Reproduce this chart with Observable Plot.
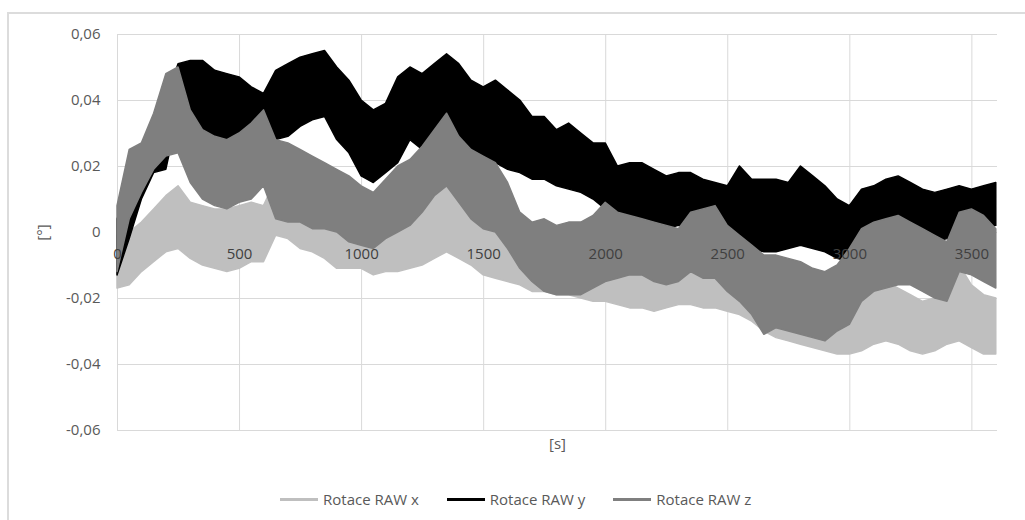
<!DOCTYPE html>
<html>
<head>
<meta charset="utf-8">
<script src="https://cdn.jsdelivr.net/npm/d3@7"></script>
<script src="https://cdn.jsdelivr.net/npm/@observablehq/plot@0.6"></script>
<style>
  html, body { margin: 0; padding: 0; background: #fff; }
  #root { position: relative; width: 1025px; height: 520px; overflow: hidden; font-family: "Open Sans", sans-serif; }
  #frame { position: absolute; left: 7px; top: 12px; width: 1100px; height: 600px; border-left: 2px solid #dcdcdc; border-top: 2px solid #dcdcdc; }
  #chart { position: absolute; left: 0; top: 0; }
  #legend { position: absolute; left: 280px; top: 489px; height: 20px; display: flex; align-items: center; font-size: 15px; color: #595959; white-space: nowrap; }
  .item { display: flex; align-items: center; margin-right: 28px; }
  .sw { width: 38px; height: 3px; margin-right: 5px; }
</style>
</head>
<body>
<div id="root">
  <div id="frame"></div>
  <div id="chart"></div>
  <div id="legend"></div>
</div>
<script>
// time samples [s]
const times = [0,50,100,150,200,250,300,350,400,450,
  500,550,600,650,700,750,800,850,900,950,
  1000,1050,1100,1150,1200,1250,1300,1350,1400,1450,
  1500,1550,1600,1650,1700,1750,1800,1850,1900,1950,
  2000,2050,2100,2150,2200,2250,2300,2350,2400,2450,
  2500,2550,2600,2650,2700,2750,2800,2850,2900,2950,
  3000,3050,3100,3150,3200,3250,3300,3350,3400,3450,
  3500,3550,3600];

// Rotace RAW x : lower / upper envelope of the noisy trace
const xLo = [-0.017,-0.016,-0.012,-0.009,-0.006,-0.005,-0.008,-0.010,-0.011,-0.012,
  -0.011,-0.009,-0.009,-0.001,-0.002,-0.005,-0.006,-0.008,-0.011,-0.011,
  -0.011,-0.013,-0.012,-0.012,-0.011,-0.010,-0.008,-0.006,-0.008,-0.010,
  -0.013,-0.014,-0.015,-0.016,-0.018,-0.018,-0.019,-0.019,-0.020,-0.021,
  -0.021,-0.022,-0.023,-0.023,-0.024,-0.023,-0.022,-0.022,-0.023,-0.023,
  -0.024,-0.025,-0.027,-0.030,-0.032,-0.033,-0.034,-0.035,-0.036,-0.037,
  -0.037,-0.036,-0.034,-0.033,-0.034,-0.036,-0.037,-0.036,-0.034,-0.033,
  -0.035,-0.037,-0.037];
const xHi = [-0.001,0.000,0.003,0.007,0.011,0.014,0.009,0.008,0.007,0.007,
  0.008,0.009,0.008,0.016,0.014,0.011,0.010,0.008,0.006,0.005,
  0.004,0.003,0.004,0.003,0.004,0.006,0.011,0.014,0.010,0.007,
  0.004,0.001,0.000,-0.001,-0.002,-0.003,-0.003,-0.004,-0.004,-0.005,
  -0.005,-0.006,-0.007,-0.007,-0.008,-0.008,-0.007,-0.007,-0.008,-0.008,
  -0.009,-0.010,-0.012,-0.014,-0.016,-0.017,-0.018,-0.019,-0.020,-0.021,
  -0.020,-0.019,-0.017,-0.015,-0.017,-0.019,-0.021,-0.020,-0.017,-0.010,
  -0.016,-0.019,-0.020];

// Rotace RAW y
const yLo = [-0.013,-0.002,0.010,0.018,0.019,0.036,0.035,0.031,0.029,0.027,
  0.030,0.031,0.031,0.028,0.029,0.032,0.034,0.035,0.028,0.024,
  0.017,0.015,0.018,0.021,0.028,0.025,0.028,0.034,0.028,0.024,
  0.023,0.021,0.019,0.018,0.016,0.016,0.014,0.013,0.012,0.010,
  0.007,0.004,0.003,0.003,0.002,0.001,0.002,0.002,0.001,0.000,
  -0.001,-0.003,-0.005,-0.006,-0.006,-0.005,-0.004,-0.005,-0.006,-0.008,
  -0.009,-0.001,0.001,0.002,0.001,0.000,-0.002,-0.003,-0.002,0.000,
  0.000,0.001,0.002];
const yHi = [0.004,0.012,0.026,0.034,0.040,0.051,0.052,0.052,0.049,0.048,
  0.047,0.044,0.042,0.049,0.051,0.053,0.054,0.055,0.050,0.046,
  0.040,0.037,0.039,0.047,0.050,0.048,0.051,0.054,0.051,0.046,
  0.044,0.046,0.043,0.040,0.035,0.035,0.031,0.033,0.030,0.027,
  0.027,0.020,0.021,0.021,0.019,0.017,0.018,0.018,0.016,0.015,
  0.014,0.020,0.016,0.016,0.016,0.015,0.020,0.017,0.014,0.010,
  0.008,0.013,0.014,0.016,0.017,0.015,0.013,0.012,0.013,0.014,
  0.013,0.014,0.015];

// Rotace RAW z
const zLo = [-0.012,0.004,0.012,0.019,0.023,0.024,0.015,0.010,0.008,0.007,
  0.009,0.010,0.014,0.004,0.003,0.003,0.001,0.001,0.000,-0.003,
  -0.004,-0.005,-0.002,0.000,0.002,0.006,0.011,0.014,0.009,0.004,
  0.001,0.000,-0.005,-0.011,-0.015,-0.018,-0.019,-0.019,-0.019,-0.017,
  -0.015,-0.014,-0.013,-0.013,-0.015,-0.016,-0.015,-0.012,-0.014,-0.014,
  -0.018,-0.021,-0.025,-0.031,-0.029,-0.030,-0.031,-0.032,-0.033,-0.030,
  -0.028,-0.021,-0.018,-0.017,-0.016,-0.016,-0.018,-0.020,-0.021,-0.012,
  -0.013,-0.015,-0.017];
const zHi = [0.008,0.025,0.027,0.036,0.048,0.050,0.037,0.031,0.029,0.028,
  0.030,0.033,0.037,0.028,0.027,0.025,0.023,0.021,0.019,0.017,
  0.014,0.012,0.016,0.020,0.022,0.026,0.031,0.036,0.029,0.025,
  0.023,0.021,0.015,0.006,0.003,0.004,0.002,0.003,0.003,0.005,
  0.009,0.006,0.005,0.004,0.003,0.002,0.001,0.006,0.007,0.008,
  0.002,-0.001,-0.004,-0.007,-0.007,-0.008,-0.009,-0.011,-0.012,-0.010,
  -0.005,0.001,0.003,0.004,0.005,0.003,0.001,-0.001,-0.003,0.006,
  0.007,0.005,0.001];

const seriesNames = ["Rotace RAW x", "Rotace RAW y", "Rotace RAW z"];
const seriesColors = ["#bfbfbf", "#000000", "#7f7f7f"];
const xTicks = [0, 500, 1000, 1500, 2000, 2500, 3000, 3500];
const yTicks = [-0.06, -0.04, -0.02, 0, 0.02, 0.04, 0.06];

const lows = [xLo, yLo, zLo], highs = [xHi, yHi, zHi];
const rows = seriesNames.map((name, s) =>
  times.map((t, i) => ({t, lo: lows[s][i], hi: highs[s][i], name}))
       .filter(d => d.lo !== undefined && d.hi !== undefined));

const fmt = d => d === 0 ? "0" : d.toFixed(2).replace(".", ",");

const plot = Plot.plot({
  width: 1025,
  height: 470,
  marginLeft: 117,
  marginRight: 28,
  marginTop: 34,
  marginBottom: 40,
  x: {domain: [0, 3605], axis: null, label: null},
  y: {domain: [-0.06, 0.06], label: null},
  style: {fontFamily: "'Open Sans', sans-serif", fontSize: "15px", background: "transparent", overflow: "visible"},
  marks: [
    Plot.gridY(yTicks, {stroke: "#d9d9d9", strokeOpacity: 1}),
    Plot.gridX(xTicks, {stroke: "#d9d9d9", strokeOpacity: 1}),
    Plot.ruleY([0], {stroke: "#d9d9d9"}),
    ...rows.map((data, s) => Plot.areaY(data, {
      x: "t", y1: "lo", y2: "hi",
      fill: seriesColors[s], stroke: seriesColors[s], strokeWidth: 1.5, curve: "linear"
    })),
    Plot.axisY(yTicks, {tickSize: 0, tickPadding: 17, tickFormat: fmt, fill: "#595959", fontSize: 15, label: null}),
    Plot.text(xTicks, {x: d => d, y: d => 0, dy: 22, text: d => String(d), fill: "#404040", fontSize: 15}),
    Plot.text(["[°]"], {x: d => 0, y: d => 0, dx: -74, rotate: -90, fill: "#595959", fontSize: 15}),
    Plot.text(["[s]"], {frameAnchor: "bottom", dy: 18, text: d => d, fill: "#595959", fontSize: 15})
  ]
});
document.getElementById("chart").appendChild(plot);

const legend = document.getElementById("legend");
seriesNames.forEach((name, s) => {
  const item = document.createElement("div");
  item.className = "item";
  const sw = document.createElement("span");
  sw.className = "sw";
  sw.style.background = seriesColors[s];
  const label = document.createElement("span");
  label.textContent = name;
  item.appendChild(sw);
  item.appendChild(label);
  legend.appendChild(item);
});
</script>
</body>
</html>
